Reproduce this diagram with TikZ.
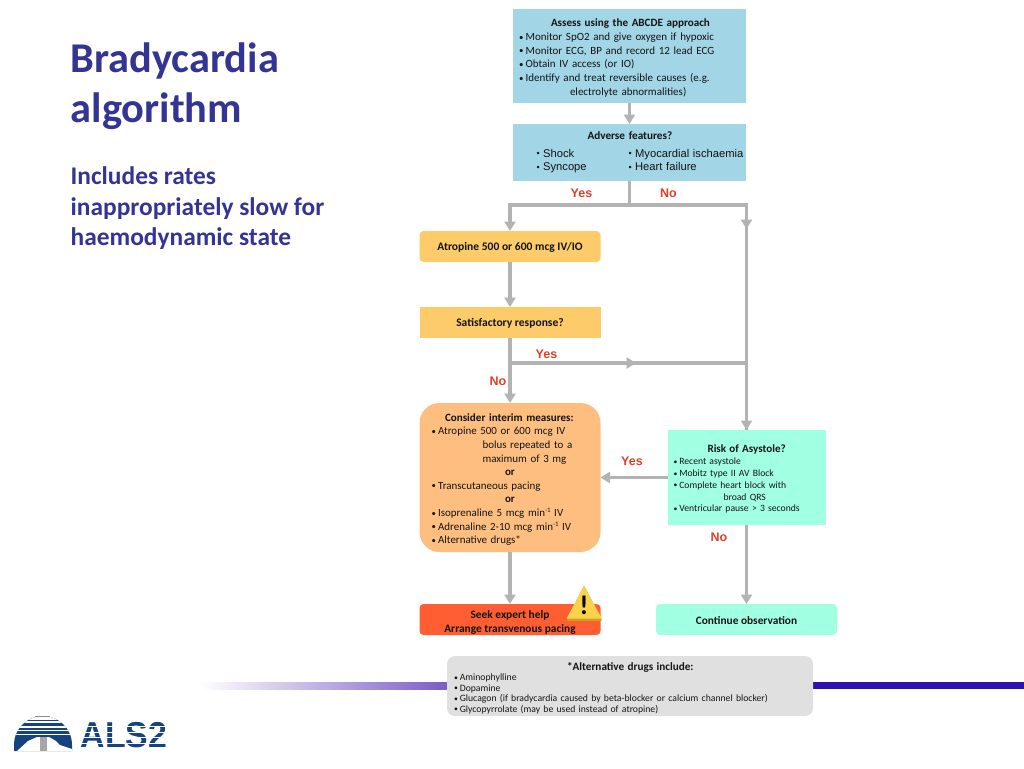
\documentclass[tikz,border=0pt]{standalone}
\usepackage{fontspec}
\setmainfont{Carlito}
\newfontfamily\arialf{Liberation Sans}
\usetikzlibrary{arrows.meta}
\definecolor{titleblue}{HTML}{343494}
\definecolor{bluebox}{HTML}{A2D5E6}
\definecolor{amberbox}{HTML}{FDCB69}
\definecolor{peachbox}{HTML}{FDBE80}
\definecolor{mintbox}{HTML}{A1FFE2}
\definecolor{redbox}{HTML}{FF5E33}
\definecolor{greybox}{HTML}{E0E0E0}
\definecolor{connector}{HTML}{B3B3B3}
\definecolor{labelred}{HTML}{E23F27}
\definecolor{barpurple}{HTML}{7A5CC6}
\definecolor{bardark}{HTML}{3010AE}
\definecolor{logoblue}{HTML}{14437F}
\definecolor{warnface}{HTML}{F8D24B}
\definecolor{warnbase}{HTML}{D39C1E}
\newcommand{\fs}[2]{\fontsize{#1pt}{#2pt}\selectfont}
\newcommand{\blt}{\makebox[6.6pt][l]{\raisebox{0.5pt}{\scalebox{0.8}{•}}}}
\newcommand{\sblt}{\makebox[5.8pt][l]{\raisebox{0.5pt}{\scalebox{0.8}{•}}}}
\newcommand{\pad}[1]{\rule{0pt}{#1pt}}
\newcommand{\supr}[1]{\raisebox{3.6pt}{\fs{6.8}{8}#1}}
\tikzset{
  x=1pt,y=-1pt,
  boxnode/.style={inner sep=0pt,outer sep=0pt,align=left,text=black!92},
  conn/.style={draw=connector,line width=3.3pt},
  arr/.style={conn,-{Triangle[width=11pt,length=9.5pt]}},
  flag/.style={text=labelred,font=\arialf\bfseries\fs{12.5}{14},inner sep=0pt}
}
\begin{document}
\begin{tikzpicture}
\useasboundingbox (0,0) rectangle (1024,768);
\fill[white] (0,0) rectangle (1024,768);
% title
\node[anchor=north west,inner sep=0pt,align=left,text=titleblue,font=\bfseries\fs{42.4}{50.5}] (title) at (70.5,42.5) {Bradycardia\\algorithm};
\node[anchor=north west,inner sep=0pt,align=left,text=titleblue,font=\bfseries\fs{25.4}{30.7}] (sub) at (70.5,166.5) {Includes rates\\inappropriately slow for\\haemodynamic state};
% bar
\shade[left color=white,right color=barpurple] (200,682) rectangle (448,689);
\fill[bardark] (812,682) rectangle (1024,689);
% boxes
\node[boxnode,fill=bluebox,minimum width=233pt,minimum height=94pt,text width=221pt,font=\fs{11}{13.65}] (assess) at (629.5,56) {%
\pad{12}\hspace*{32pt}{\bfseries\fs{11.1}{13.65}Assess using the ABCDE approach}\\
\blt Monitor SpO2 and give oxygen if hypoxic\\
\blt Monitor ECG, BP and record 12 lead ECG\\
\blt Obtain IV access (or IO)\\
\blt Identify and treat reversible causes (e.g.\\
\hspace*{51pt}electrolyte abnormalities)};
\node[boxnode,fill=bluebox,minimum width=233pt,minimum height=57pt,text width=233pt,font=\arialf\fs{11.2}{13.65}] (adverse) at (629.5,152.5) {%
\hspace*{74.5pt}{\rmfamily\bfseries Adverse features?}\\[4pt]
\hspace*{23.5pt}\makebox[92pt][l]{\blt Shock}\blt Myocardial ischaemia\\
\hspace*{23.5pt}\makebox[92pt][l]{\blt Syncope}\blt Heart failure};
\node[boxnode,fill=amberbox,rounded corners=4pt,minimum width=181pt,minimum height=31pt,align=center,font=\bfseries\fs{11.55}{13}] (atropine) at (510,246.5) {\pad{10}Atropine 500 or 600 mcg IV/IO};
\node[boxnode,fill=amberbox,minimum width=181pt,minimum height=31pt,align=center,font=\bfseries\fs{11.55}{13}] (satisf) at (510,322.5) {\pad{10}Satisfactory response?};
\node[boxnode,fill=peachbox,rounded corners=20pt,minimum width=181pt,minimum height=149pt,text width=157pt,font=\fs{10.95}{13.6}] (interim) at (510,477.5) {%
\pad{12}\hspace*{13.5pt}{\bfseries\fs{11.1}{13.6}Consider interim measures:}\\
\blt Atropine 500 or 600 mcg IV\\
\hspace*{51pt}bolus repeated to a\\
\hspace*{51pt}maximum of 3 mg\\
\hspace*{73.5pt}\textbf{or}\\
\blt Transcutaneous pacing\\
\hspace*{73.5pt}\textbf{or}\\
\blt Isoprenaline 5 mcg min\supr{-1} IV\\
\blt Adrenaline 2-10 mcg min\supr{-1} IV\\
\blt Alternative drugs*};
\node[boxnode,fill=mintbox,minimum width=158pt,minimum height=95pt,text width=146pt,font=\fs{9.65}{11.8}] (risk) at (746.5,477.5) {%
\pad{11}\hspace*{34pt}{\bfseries\fs{11.1}{13}Risk of Asystole?}\\[0.5pt]
\sblt Recent asystole\\
\sblt Mobitz type II AV Block\\
\sblt Complete heart block with\\
\hspace*{50pt}broad QRS\\
\sblt Ventricular pause > 3 seconds};
\node[boxnode,fill=redbox,rounded corners=4pt,minimum width=181pt,minimum height=31pt,align=center,font=\bfseries\fs{11.4}{13.3}] (seek) at (510,619.5) {\pad{14}Seek expert help\\Arrange transvenous pacing};
\node[boxnode,fill=mintbox,rounded corners=4pt,minimum width=181pt,minimum height=31pt,align=center,font=\bfseries\fs{11.35}{13}] (cont) at (746.5,619.5) {\pad{11}Continue observation};
\node[boxnode,fill=greybox,rounded corners=8pt,minimum width=366pt,minimum height=60pt,text width=352pt,font=\fs{9.7}{10.6}] (alt) at (630,686) {%
\pad{12}\hspace*{113pt}{\bfseries\fs{11.2}{13}*Alternative drugs include:}\\
\sblt Aminophylline\\
\sblt Dopamine\\
\sblt Glucagon (if bradycardia caused by beta-blocker or calcium channel blocker)\\
\sblt Glycopyrrolate (may be used instead of atropine)};
% connectors
\coordinate (fork) at (629.5,205);
\coordinate (forkL) at (510,205);
\coordinate (forkR) at (746.5,205);
\coordinate (tipR) at (746.5,229);
\coordinate (yesJ) at (510,363);
\coordinate (yesMid) at (636,363);
\coordinate (yesR) at (746.5,363);
\draw[arr] (assess.south) -- (adverse.north);
\draw[conn] (adverse.south) -- (fork);
\draw[arr] (fork) -- (forkL) -- (atropine.north);
\draw[conn] (fork) -- (forkR) -- (risk.north);
\draw[arr] (forkR) -- (tipR);
\draw[arr] (tipR) -- (risk.north);
\draw[arr] (atropine.south) -- (satisf.north);
\draw[arr] (satisf.south) -- (interim.north);
\draw[conn] (yesJ) -- (yesR);
\draw[arr] (yesJ) -- (yesMid);
\draw[arr] (risk.west) -- (interim.east);
\draw[arr] (risk.south) -- (cont.north);
\draw[arr] (interim.south) -- (seek.north);
% labels
\node[flag] (l1) at (581.5,193) {Yes};
\node[flag] (l2) at (668.5,193.5) {No};
\node[flag] (l3) at (546.5,354) {Yes};
\node[flag] (l4) at (498,381.5) {No};
\node[flag] (l5) at (632,461.5) {Yes};
\node[flag] (l6) at (719,537.5) {No};
% warning sign
\fill[warnbase,line join=round,line width=1.5pt,draw=warnbase] (584,587) -- (567.5,620) -- (601,620) -- cycle;
\fill[warnface,line join=round,line width=1pt,draw=warnface] (584,587) -- (567.5,618) -- (601,618) -- cycle;
\node[inner sep=0pt,font=\bfseries\fs{27}{27},text=black] (warn) at (584,605) {!};
% logo
\begin{scope}
\clip (14,751) -- (14,745) .. controls (14,728) and (28,716) .. (43,716) .. controls (58,716) and (72,728) .. (72,745) -- (72,751) -- cycle;
\fill[logoblue] (10,712) rectangle (76,753);
\foreach \yy/\hh in {715/4.5,721/2.2,725.5/2,729.5/1.4,733.5/1.2}
  \fill[white] (10,\yy) rectangle (76,\yy+\hh);
\fill[white] (17,751) -- (28,741) -- (37,737) -- (49,737) -- (56,741) -- (60,745) -- (72,749) -- (72,752) -- (17,752) -- cycle;
\fill[black!35] (40,737) rectangle (47,751);
\end{scope}
\fill[black!45] (35,716) rectangle (50,716.8);
\node[inner sep=0pt,anchor=west,text=logoblue,font=\arialf\bfseries\fs{36}{36}] (logotext) at (80.5,735.5) {\scalebox{0.94}[1]{ALS2}};
\foreach \yy in {726,731.5,737,743}
  \fill[white] (78,\yy) rectangle (170,\yy+1.1);
\end{tikzpicture}
\end{document}
